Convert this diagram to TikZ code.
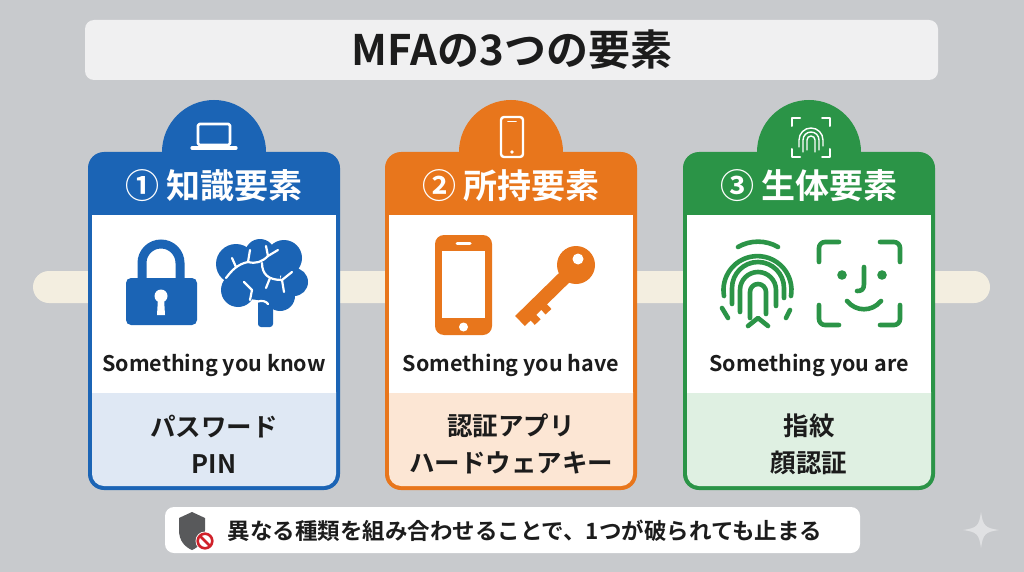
\documentclass[tikz,border=0pt]{standalone}
\usepackage{fontspec}
\setmainfont{Noto Sans CJK JP}[BoldFont={Noto Sans CJK JP Bold}]
\usetikzlibrary{positioning,calc}
\definecolor{bggray}{HTML}{C8CACD}
\definecolor{titlebg}{HTML}{F0F0F1}
\definecolor{band}{HTML}{F3EEE0}
\definecolor{ink}{HTML}{1C1C1C}
\definecolor{kblue}{HTML}{1B64B5}
\definecolor{kbluetint}{HTML}{DFE8F4}
\definecolor{korange}{HTML}{E8761C}
\definecolor{korangetint}{HTML}{FCE6D4}
\definecolor{kgreen}{HTML}{2B9447}
\definecolor{kgreentint}{HTML}{DFF0E2}
\definecolor{shield}{HTML}{58595B}
\definecolor{nored}{HTML}{D0212A}
\tikzset{
card/.style = {rounded corners=16pt},
tint/.style = {rounded corners=12pt},
head/.style = {text=white, font=\fontsize{34}{40}\selectfont\bfseries},
caption/.style = {text=ink, font=\fontsize{21.5}{26}\selectfont\bfseries},
items/.style = {text=ink, align=center, font=\fontsize{25.5}{37}\selectfont\bfseries},
icon/.style = {line cap=round, line join=round},
sulcus/.style = {white, line width=2.2pt, line cap=round, line join=round},
tabicon/.style = {white, line width=2.6pt, line cap=round, line join=round}
}
\begin{document}
\begin{tikzpicture}[x=1pt, y=-1pt]
  \useasboundingbox (0,0) rectangle (1024,572);
  \fill[bggray] (0,0) rectangle (1024,572);
  \fill[band, rounded corners=16pt] (33,271) rectangle (990,303);

  % title
  \fill[titlebg, rounded corners=9pt] (85,20) rectangle (938,80);
  \node [text=ink, font=\fontsize{42}{48}\selectfont\bfseries] (title) at (512,50) {MFAの3つの要素};

  % card 1
  \fill[kblue] (214,152) circle (52);
  \fill[kblue, card] (88,152) rectangle (340,490);
  \fill[kbluetint, tint] (92,380) rectangle (336,486);
  \fill[white] (92,215) rectangle (336,393);
  \node [head]    (headknow) at (214,186) {① 知識要素};
  \node [caption] (capknow)  at (214,365) {Something you know};
  \node [items]   (itemknow) at (214,444) {パスワード\\PIN};
  % laptop
  \draw[tabicon, rounded corners=1.5pt] (198,124) rectangle (230,145);
  \draw[tabicon, line width=3.2pt] (192,148) -- (236,148);
  % padlock
  \draw[kblue, line width=9pt] (142,282) -- (142,263) arc (180:360:19) -- (180,282);
  \fill[kblue, rounded corners=5pt] (126,278) rectangle (197,325);
  \fill[white] (161,296) circle (6.5);
  \fill[white] (158,298) -- (164,298) -- (165,315) -- (157,315) -- cycle;
  % brain
  \fill[kblue] (236,264) circle (20) (260,254) circle (15) (284,258) circle (18)
               (294,282) circle (14) (280,296) circle (15) (238,290) circle (17)
               (258,278) circle (22);
  \fill[kblue, rounded corners=3pt] (258,296) rectangle (273,327);
  \draw[sulcus] (226,278) .. controls (232,270) and (238,264) .. (248,262)
        (236,267) -- (232,258) (248,262) -- (250,250);
  \draw[sulcus] (248,262) .. controls (256,264) and (262,262) .. (268,256)
        (268,256) -- (266,246) (268,256) -- (278,250);
  \draw[sulcus] (262,263) .. controls (262,274) and (268,280) .. (282,280)
        (282,280) -- (292,272) (282,280) -- (284,292) (270,278) -- (266,288);
  \draw[sulcus] (244,282) -- (252,290) -- (250,300);
  \draw[sulcus] (256,302) .. controls (262,300) and (266,301) .. (268,304);

  % card 2
  \fill[korange] (511,152) circle (52);
  \fill[korange, card] (385,152) rectangle (637,490);
  \fill[korangetint, tint] (389,380) rectangle (633,486);
  \fill[white] (389,215) rectangle (633,393);
  \node [head]    (headhave) at (511,186) {② 所持要素};
  \node [caption] (caphave)  at (511,365) {Something you have};
  \node [items]   (itemhave) at (511,444) {認証アプリ\\ハードウェアキー};
  % small phone
  \draw[tabicon, line width=2.4pt, rounded corners=3pt] (501,117) rectangle (523,157);
  \draw[tabicon, line width=1.6pt] (508,121.5) -- (516,121.5);
  \fill[white] (512,152) circle (1.8);
  % phone
  \fill[korange, rounded corners=9pt] (435,235) rectangle (492,335);
  \fill[white] (442,251) rectangle (485,318);
  \draw[white, line width=3pt, icon] (457,243) -- (470,243);
  \fill[white] (463.5,327) circle (4.5);
  % key
  \fill[korange] (576,265) circle (19);
  \draw[korange, line width=14pt] (568,274) -- (520,321);
  \draw[korange, line width=8pt] (528.7,312.7) -- (537.7,322.1);
  \draw[korange, line width=8pt] (539.5,302.3) -- (548.5,311.7);
  \fill[white] (578,259) circle (5.5);

  % card 3
  \fill[kgreen] (809,152) circle (52);
  \fill[kgreen, card] (683,152) rectangle (935,490);
  \fill[kgreentint, tint] (687,380) rectangle (931,486);
  \fill[white] (687,215) rectangle (931,393);
  \node [head]    (headare) at (809,186) {③ 生体要素};
  \node [caption] (capare)  at (809,365) {Something you are};
  \node [items]   (itemare) at (809,444) {指紋\\顔認証};
  % small fingerprint
  \draw[tabicon, line width=2pt] (792,126) -- (792,118) -- (800,118) (822,118) -- (830,118) -- (830,126)
        (830,149) -- (830,157) -- (822,157) (800,157) -- (792,157) -- (792,149);
  \draw[tabicon, line width=1.4pt] (807,150) -- (807,140) arc (180:360:4) -- (815,152)
        (803,152) -- (803,140) arc (180:360:8) -- (819,150)
        (799,147) -- (799,140) arc (180:360:12) -- (823,146);
  % fingerprint
  \draw[kgreen, line width=4.6pt, icon] (738,247) arc (240:300:40);
  \draw[kgreen, line width=4.6pt, icon] (724,296) arc (170:370:34);
  \draw[kgreen, line width=4.6pt, icon] (732,304) -- (732,288) arc (180:360:26) -- (784,298);
  \draw[kgreen, line width=4.6pt, icon] (740,312) -- (740,290) arc (180:360:18) -- (776,306);
  \draw[kgreen, line width=4.6pt, icon] (750,318) -- (750,292) arc (180:360:8) -- (766,314);
  \draw[kgreen, line width=4.6pt, icon] (748,326) -- (758,318) -- (768,326);
  \draw[kgreen, line width=4.6pt, icon] (722,308) -- (728,318);
  \draw[kgreen, line width=4.6pt, icon] (790,310) -- (786,318);
  % face id
  \draw[kgreen, line width=4.6pt, icon, rounded corners=6pt]
        (819,262) -- (819,242) -- (839,242)  (880,242) -- (900,242) -- (900,262)
        (900,305) -- (900,325) -- (880,325)  (839,325) -- (819,325) -- (819,305);
  \fill[kgreen] (842,275) circle (4.8) (882,275) circle (4.8);
  \draw[kgreen, line width=4.6pt, icon] (864,267) -- (864,284) .. controls (864,290) and (861,291) .. (857,291);
  \draw[kgreen, line width=4.6pt, icon] (847,301) .. controls (856,312) and (872,312) .. (881,301);

  % note
  \fill[white, rounded corners=9pt] (165,507) rectangle (860,553);
  \fill[shield] (179,518) -- (192,512) -- (205,518) -- (205,530)
        .. controls (205,541) and (199,547) .. (192,550)
        .. controls (185,547) and (179,541) .. (179,530) -- cycle;
  \fill[white] (205,541) circle (9.5);
  \draw[nored, line width=2.6pt] (205,541) circle (7.3);
  \draw[nored, line width=2.6pt] (200,536) -- (210,546);
  \node [anchor=west, text=ink, font=\fontsize{22.5}{26}\selectfont\bfseries] (note) at (224,531)
        {異なる種類を組み合わせることで、1つが破られても止まる};

  % sparkle
  \fill[white, opacity=0.45] (981,512) .. controls (983,526) and (985,528) .. (999,530)
        .. controls (985,532) and (983,534) .. (981,548)
        .. controls (979,534) and (977,532) .. (963,530)
        .. controls (977,528) and (979,526) .. (981,512) -- cycle;
\end{tikzpicture}
\end{document}
